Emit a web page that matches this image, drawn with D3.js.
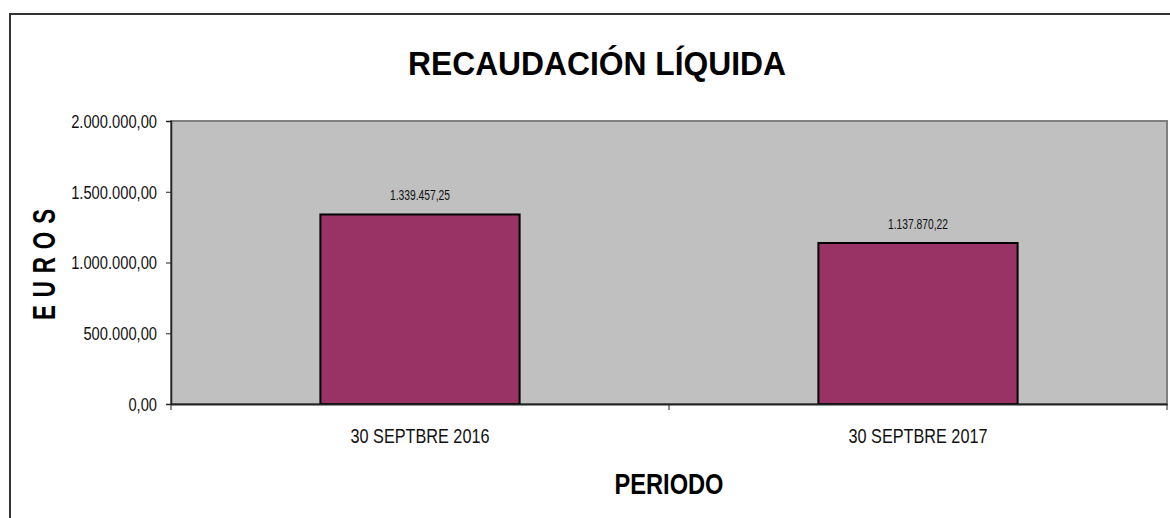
<!DOCTYPE html>
<html>
<head>
<meta charset="utf-8">
<script src="https://cdn.jsdelivr.net/npm/d3@7"></script>
<style>
  body { margin: 0; background: #fff; }
  svg { display: block; font-family: "Liberation Sans", Arial, sans-serif; }
</style>
</head>
<body>
<div id="chart"></div>
<script>
// data
const periods = ['30 SEPTBRE 2016', '30 SEPTBRE 2017'];
const amounts = [1339457.25, 1137870.22];
const yTicks = [0, 500000, 1000000, 1500000, 2000000];

const width = 1170, height = 518;
const plot = { left: 171, top: 121, right: 1167, bottom: 404 };

// spanish style number: 1.339.457,25
const fmtNum = v => {
    const [i, d] = v.toFixed(2).split('.');
    return i.replace(/\B(?=(\d{3})+(?!\d))/g, '.') + ',' + d;
};

const svg = d3.select('#chart').append('svg')
    .attr('width', width)
    .attr('height', height);

// outer chart frame (runs off right and bottom of the picture)
svg.append('rect')
    .attr('x', 10).attr('y', 14)
    .attr('width', width + 20).attr('height', height + 20)
    .attr('fill', 'none')
    .attr('stroke', '#333')
    .attr('stroke-width', 2);

const x = d3.scaleBand()
    .domain(periods)
    .range([plot.left, plot.right])
    .paddingInner(0)
    .paddingOuter(0);

const y = d3.scaleLinear()
    .domain([0, 2000000])
    .range([plot.bottom, plot.top]);

// plot area background
svg.append('rect')
    .attr('x', plot.left).attr('y', plot.top)
    .attr('width', plot.right - plot.left).attr('height', plot.bottom - plot.top)
    .attr('fill', '#c0c0c0')
    .attr('stroke', '#808080')
    .attr('stroke-width', 2);

// bars, 40% of the band
const barW = x.bandwidth() * 0.4;
svg.append('g')
    .selectAll('rect')
    .data(amounts)
    .join('rect')
    .attr('x', (d, i) => x(periods[i]) + (x.bandwidth() - barW) / 2)
    .attr('y', d => y(d))
    .attr('width', barW)
    .attr('height', d => y(0) - y(d))
    .attr('fill', '#993366')
    .attr('stroke', '#000')
    .attr('stroke-width', 2);

// value labels
svg.append('g')
    .selectAll('text')
    .data(amounts)
    .join('text')
    .attr('x', (d, i) => x(periods[i]) + x.bandwidth() / 2)
    .attr('y', d => y(d) - 14)
    .attr('text-anchor', 'middle')
    .attr('font-size', 14)
    .attr('textLength', 60)
    .attr('lengthAdjust', 'spacingAndGlyphs')
    .attr('fill', '#111')
    .text(d => fmtNum(d));

// y axis
const yAxis = svg.append('g')
    .attr('transform', `translate(${plot.left},0)`)
    .call(d3.axisLeft(y).tickValues(yTicks).tickSize(5).tickFormat(fmtNum));
yAxis.select('.domain').attr('stroke', '#222').attr('stroke-width', 1.5);
yAxis.selectAll('.tick line').attr('stroke', '#222');
yAxis.selectAll('.tick text')
    .attr('x', -14)
    .attr('dy', '0.36em')
    .attr('font-size', 17.5)
    .attr('fill', '#111')
    .attr('font-family', '"Liberation Sans", Arial, sans-serif')
    .each(function () {
        const w = this.getComputedTextLength();
        d3.select(this).attr('textLength', w * 0.84).attr('lengthAdjust', 'spacingAndGlyphs');
    });

// x axis
const xAxis = svg.append('g')
    .attr('transform', `translate(0,${plot.bottom})`)
    .call(d3.axisBottom(x).tickSize(0).tickPadding(0));
xAxis.select('.domain').attr('stroke', '#222').attr('stroke-width', 2);
xAxis.selectAll('.tick text')
    .attr('y', 39)
    .attr('dy', 0)
    .attr('font-size', 21)
    .attr('fill', '#111')
    .attr('font-family', '"Liberation Sans", Arial, sans-serif')
    .attr('textLength', 139)
    .attr('lengthAdjust', 'spacingAndGlyphs');

// category separators below the axis
svg.append('g')
    .selectAll('line')
    .data([plot.left, ...periods.slice(1).map(p => x(p)), plot.right])
    .join('line')
    .attr('x1', d => d).attr('x2', d => d)
    .attr('y1', plot.bottom).attr('y2', plot.bottom + 6)
    .attr('stroke', '#222');

// titles
svg.append('text')
    .attr('x', 597).attr('y', 75)
    .attr('text-anchor', 'middle')
    .attr('font-size', 33)
    .attr('font-weight', 'bold')
    .attr('textLength', 378)
    .attr('lengthAdjust', 'spacingAndGlyphs')
    .text('RECAUDACIÓN LÍQUIDA');

// narrow, letter-spaced vertical title
const sx = 0.72;
svg.append('text')
    .attr('transform', `translate(55,264) rotate(-90) scale(${sx},1)`)
    .attr('x', -56 / sx)
    .attr('text-anchor', 'start')
    .attr('font-size', 31)
    .attr('font-weight', 'bold')
    .attr('letter-spacing', 11)
    .text('EUROS');

svg.append('text')
    .attr('x', 669).attr('y', 494)
    .attr('text-anchor', 'middle')
    .attr('font-size', 30)
    .attr('font-weight', 'bold')
    .attr('textLength', 109)
    .attr('lengthAdjust', 'spacingAndGlyphs')
    .text('PERIODO');
</script>
</body>
</html>
